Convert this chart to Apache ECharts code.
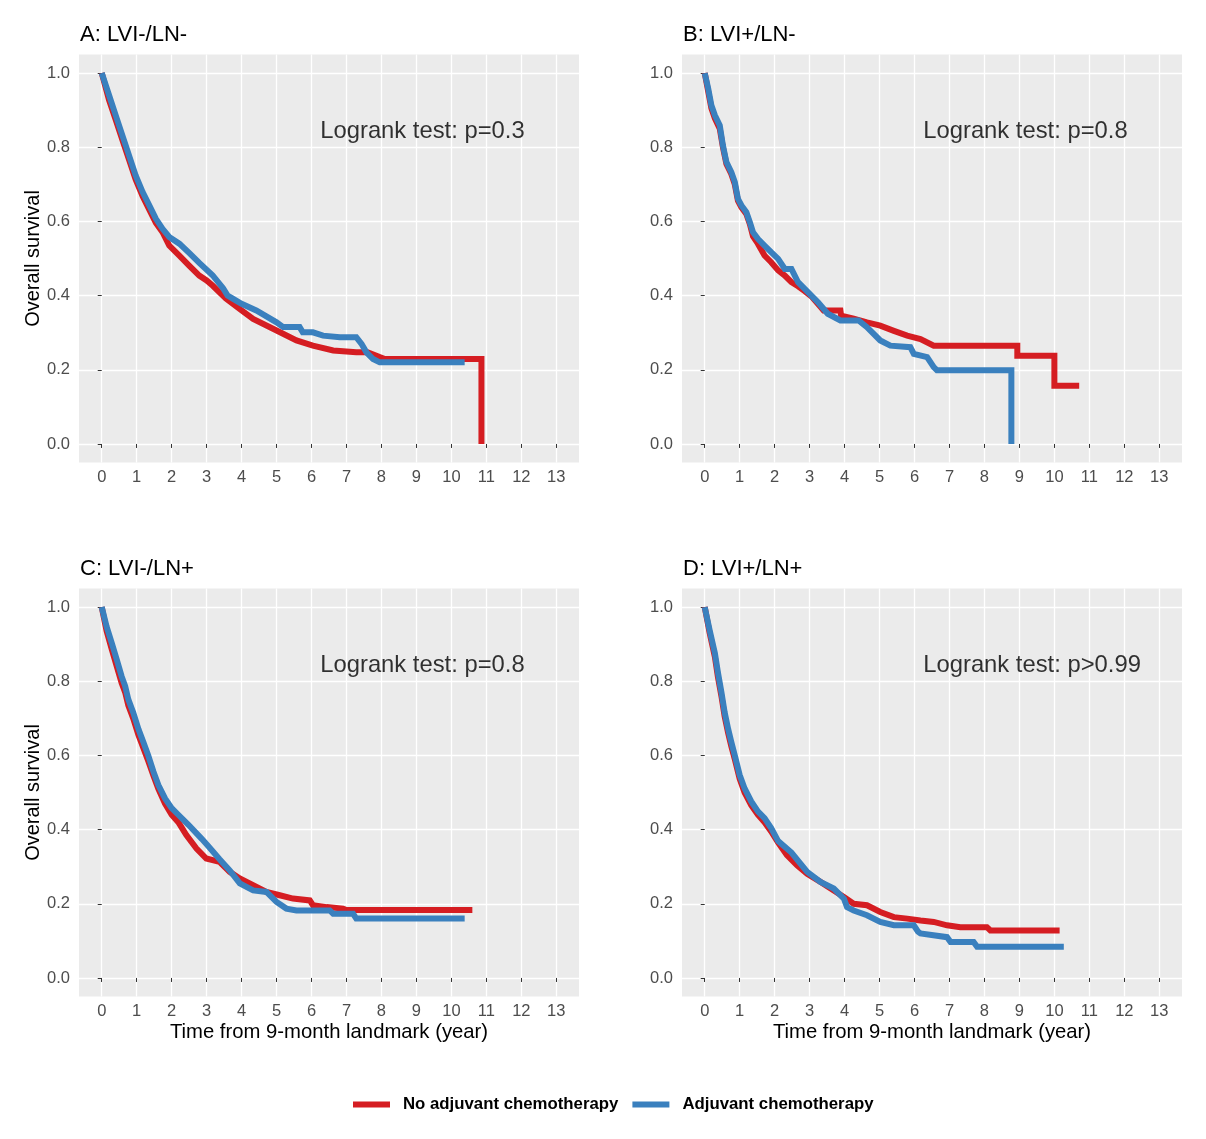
<!DOCTYPE html>
<html>
<head>
<meta charset="utf-8">
<script src="https://cdn.jsdelivr.net/npm/echarts@6/dist/echarts.min.js"></script>
<style>
  html, body { margin: 0; padding: 0; background: #fff; }
  #main { width: 1206px; height: 1139px; }
</style>
</head>
<body>
<div id="main"></div>
<script>
// survival curves: [years, survival]
var A_no = [[0,1],[0.21,0.927],[0.4,0.874],[0.59,0.82],[0.78,0.767],[0.97,0.713],[1.17,0.668],[1.36,0.632],[1.55,0.596],[1.74,0.571],[1.93,0.535],[2.22,0.508],[2.5,0.481],[2.79,0.454],[3.0,0.441],[3.17,0.427],[3.55,0.392],[4.0,0.36],[4.33,0.337],[5.0,0.306],[5.57,0.279],[6.04,0.265],[6.62,0.252],[7.28,0.247],[7.6,0.247],[7.95,0.234],[8.1,0.229],[10.86,0.229],[10.86,0]];
var A_adj = [[0,1],[0.21,0.94],[0.4,0.886],[0.59,0.832],[0.78,0.778],[0.97,0.724],[1.17,0.679],[1.36,0.643],[1.55,0.607],[1.74,0.58],[1.93,0.558],[2.22,0.54],[2.5,0.515],[2.79,0.488],[3.17,0.455],[3.47,0.42],[3.6,0.4],[3.76,0.391],[4.0,0.378],[4.42,0.36],[5.0,0.328],[5.19,0.315],[5.66,0.315],[5.75,0.301],[6.04,0.301],[6.33,0.292],[6.81,0.288],[7.28,0.288],[7.43,0.27],[7.57,0.247],[7.76,0.229],[7.95,0.22],[10.38,0.22]];

var B_no = [[0,1],[0.1,0.95],[0.19,0.905],[0.29,0.878],[0.43,0.85],[0.52,0.8],[0.62,0.755],[0.76,0.728],[0.86,0.7],[0.95,0.656],[1.05,0.638],[1.19,0.62],[1.29,0.593],[1.38,0.56],[1.52,0.54],[1.71,0.508],[1.9,0.49],[2.1,0.468],[2.29,0.454],[2.48,0.436],[2.67,0.425],[2.86,0.412],[3.05,0.398],[3.31,0.37],[3.4,0.36],[3.88,0.36],[3.9,0.346],[4.26,0.338],[4.64,0.328],[5.02,0.319],[5.41,0.305],[5.79,0.292],[6.17,0.283],[6.55,0.265],[8.94,0.265],[8.94,0.238],[10.0,0.238],[10.0,0.157],[10.71,0.157]];
var B_adj = [[0,1],[0.1,0.958],[0.19,0.913],[0.29,0.886],[0.43,0.859],[0.52,0.805],[0.62,0.76],[0.76,0.733],[0.86,0.706],[0.95,0.661],[1.05,0.643],[1.19,0.625],[1.29,0.598],[1.38,0.571],[1.52,0.553],[1.71,0.535],[1.9,0.517],[2.1,0.499],[2.29,0.472],[2.48,0.472],[2.67,0.436],[2.86,0.418],[3.05,0.4],[3.24,0.382],[3.52,0.351],[3.88,0.333],[4.4,0.333],[4.64,0.315],[5.02,0.279],[5.31,0.265],[5.88,0.261],[5.98,0.243],[6.36,0.234],[6.55,0.207],[6.64,0.199],[8.77,0.199],[8.77,0]];

var C_no = [[0,1],[0.14,0.935],[0.29,0.885],[0.43,0.84],[0.57,0.795],[0.67,0.77],[0.76,0.735],[0.9,0.7],[1.05,0.655],[1.19,0.62],[1.33,0.585],[1.48,0.545],[1.62,0.51],[1.81,0.47],[2.0,0.44],[2.19,0.42],[2.42,0.385],[2.71,0.349],[2.99,0.322],[3.37,0.313],[3.66,0.286],[3.95,0.268],[4.33,0.25],[4.71,0.232],[5.09,0.223],[5.47,0.214],[5.95,0.209],[6.04,0.196],[6.43,0.191],[6.9,0.187],[7.0,0.183],[10.6,0.183]];
var C_adj = [[0,1],[0.14,0.947],[0.29,0.902],[0.43,0.858],[0.57,0.813],[0.67,0.787],[0.76,0.751],[0.9,0.716],[1.05,0.671],[1.19,0.636],[1.33,0.6],[1.48,0.556],[1.62,0.52],[1.81,0.484],[2.0,0.458],[2.19,0.44],[2.48,0.413],[2.86,0.375],[3.05,0.355],[3.37,0.32],[3.66,0.29],[3.95,0.255],[4.33,0.236],[4.71,0.232],[5.0,0.205],[5.28,0.187],[5.57,0.182],[6.52,0.182],[6.62,0.173],[7.19,0.173],[7.28,0.16],[10.38,0.16]];

var D_no = [[0,1],[0.14,0.93],[0.29,0.866],[0.38,0.81],[0.48,0.758],[0.57,0.705],[0.67,0.66],[0.76,0.625],[0.86,0.59],[1.0,0.537],[1.14,0.5],[1.33,0.466],[1.52,0.44],[1.71,0.42],[1.9,0.395],[2.1,0.365],[2.35,0.331],[2.64,0.304],[2.93,0.281],[3.31,0.259],[3.69,0.236],[3.98,0.218],[4.26,0.2],[4.64,0.196],[5.02,0.178],[5.41,0.164],[5.79,0.16],[6.17,0.155],[6.55,0.151],[6.93,0.142],[7.31,0.137],[8.07,0.137],[8.17,0.128],[10.15,0.128]];
var D_adj = [[0,1],[0.14,0.938],[0.29,0.876],[0.38,0.822],[0.48,0.769],[0.57,0.716],[0.67,0.671],[0.76,0.636],[0.86,0.6],[1.0,0.547],[1.14,0.511],[1.33,0.476],[1.52,0.449],[1.71,0.431],[1.9,0.404],[2.1,0.369],[2.48,0.338],[2.93,0.286],[3.31,0.259],[3.69,0.241],[3.98,0.214],[4.07,0.191],[4.26,0.182],[4.64,0.169],[5.02,0.151],[5.41,0.142],[5.98,0.142],[6.1,0.125],[6.17,0.12],[6.93,0.11],[7.03,0.097],[7.69,0.097],[7.79,0.084],[10.27,0.084]];

var panelTitles = ['A: LVI-/LN-', 'B: LVI+/LN-', 'C: LVI-/LN+', 'D: LVI+/LN+'];
var pvalues = ['Logrank test: p=0.3', 'Logrank test: p=0.8', 'Logrank test: p=0.8', 'Logrank test: p>0.99'];
var xTicks = [0,1,2,3,4,5,6,7,8,9,10,11,12,13];
var yTicks = [0, 0.2, 0.4, 0.6, 0.8, 1.0];
var groupNames = ['No adjuvant chemotherapy', 'Adjuvant chemotherapy'];
var colors = ['#D51D22', '#3A80BE'];
var curves = [[A_no, A_adj], [B_no, B_adj], [C_no, C_adj], [D_no, D_adj]];

var FONT = 'Liberation Sans, Arial, sans-serif';
var myChart = echarts.init(document.getElementById('main'));

var pos = [
  {left: 79, top: 54.5},
  {left: 682, top: 54.5},
  {left: 79, top: 588.5},
  {left: 682, top: 588.5}
];

var grids = [], xAxes = [], yAxes = [], titles = [], series = [];
for (var i = 0; i < 4; i++) {
  grids.push({
    left: pos[i].left, top: pos[i].top, width: 500, height: 408,
    show: true, backgroundColor: '#EBEBEB', borderWidth: 0
  });
  titles.push({
    text: panelTitles[i], left: pos[i].left + 1, top: pos[i].top - 31, padding: 0,
    textStyle: {fontSize: 22, fontWeight: 'normal', color: '#000', fontFamily: FONT}
  });
  xAxes.push({
    type: 'value', gridIndex: i, min: -0.65, max: 13.65,
    name: i >= 2 ? 'Time from 9-month landmark (year)' : '',
    nameLocation: 'middle', nameGap: 26,
    nameTextStyle: {fontSize: 20.3, color: '#000', fontFamily: FONT},
    axisLine: {show: false},
    axisTick: {show: true, length: 4, customValues: xTicks, lineStyle: {color: '#333', width: 1}},
    axisLabel: {customValues: xTicks, fontSize: 16.5, color: '#4D4D4D', margin: 6, fontFamily: FONT},
    splitLine: {show: true, lineStyle: {color: '#fff', width: 1.3}}
  });
  yAxes.push({
    type: 'value', gridIndex: i, min: -0.05, max: 1.05,
    name: (i % 2 === 0) ? 'Overall survival' : '',
    nameLocation: 'middle', nameGap: 36, nameRotate: 90,
    nameTextStyle: {fontSize: 20, color: '#000', fontFamily: FONT},
    axisLine: {show: false},
    axisTick: {show: true, length: 4, customValues: yTicks, lineStyle: {color: '#333', width: 1}},
    axisLabel: {customValues: yTicks, fontSize: 16.5, color: '#4D4D4D', margin: 9, fontFamily: FONT,
      formatter: function (v) { return v.toFixed(1); }},
    splitLine: {show: true, lineStyle: {color: '#fff', width: 1.3}}
  });
  for (var g = 0; g < 2; g++) {
    series.push({
      name: groupNames[g], type: 'line', xAxisIndex: i, yAxisIndex: i,
      data: curves[i][g], symbol: 'none', color: colors[g],
      lineStyle: {width: 6, color: colors[g], join: 'miter'},
      animation: false, z: 2 + g
    });
  }
  // logrank annotation anchored in data coordinates
  series.push({
    type: 'scatter', xAxisIndex: i, yAxisIndex: i, symbolSize: 0,
    data: [[6.25, 0.843]], silent: true, z: 5,
    label: {show: true, position: 'right', distance: 0, formatter: pvalues[i],
      fontSize: 23.8, color: '#000', fontFamily: FONT}
  });
}

var option = {
  backgroundColor: '#fff',
  animation: false,
  title: titles,
  grid: grids,
  xAxis: xAxes,
  yAxis: yAxes,
  legend: {
    data: [{name: groupNames[0], icon: 'rect'}, {name: groupNames[1], icon: 'rect'}],
    left: 353, top: 1096, padding: 0,
    itemWidth: 37, itemHeight: 6, itemGap: 14,
    textStyle: {fontSize: 16.8, fontWeight: 'bold', color: '#000', fontFamily: FONT, padding: [0, 0, 0, 8]}
  },
  series: series
};
myChart.setOption(option);
</script>
</body>
</html>
